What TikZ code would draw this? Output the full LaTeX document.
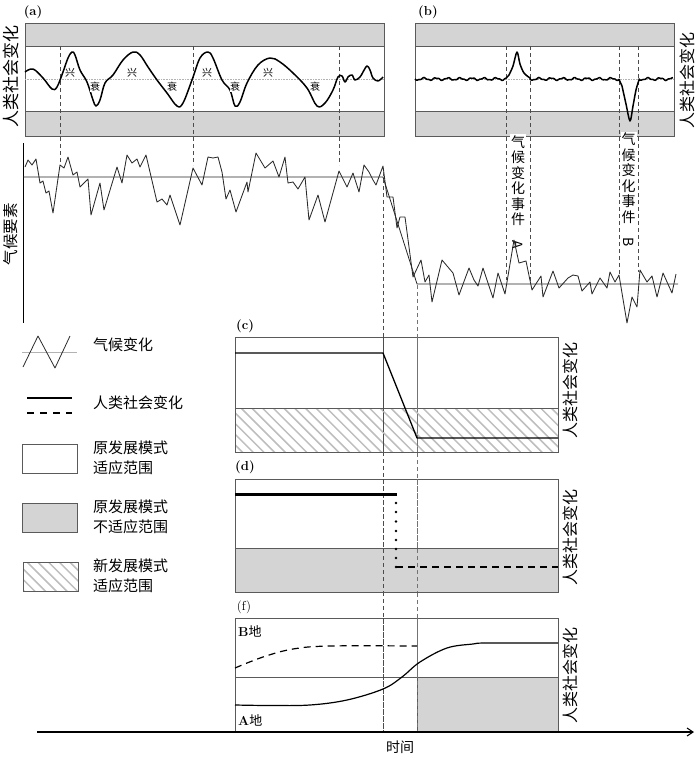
\documentclass[tikz,border=0pt]{standalone}
\usepackage{fontspec}
\newfontfamily\cjk{Noto Sans CJK SC}
\usepackage{tikz}
\usetikzlibrary{arrows.meta}
\usepackage{xcolor}
\definecolor{Band}{HTML}{D4D4D4}
\definecolor{Frame}{HTML}{5A5A5A}
\definecolor{Hatch}{HTML}{BEBEBE}
\definecolor{Wave}{HTML}{2A2A2A}

\tikzset{
  frame/.style={draw=Frame,line width=0.9pt},
  band/.style={fill=Band,draw=Frame,line width=0.9pt},
  guide/.style={draw=black!70,line width=0.6pt,dash pattern=on 4pt off 3pt},
  midline/.style={draw=gray!60,line width=0.6pt,densely dotted},
  society/.style={line width=1.7pt,line join=round},
  climate/.style={draw=Wave,line width=0.85pt,line join=round},
  mean/.style={draw=black!85,line width=0.8pt},
  zh/.style={font=\cjk\fontsize{15}{20}\selectfont,inner sep=0pt},
  tag/.style={font=\bfseries\fontsize{13}{13}\selectfont,inner sep=0pt},
}

% hatched rectangle: x1,y1,x2,y2
\newcommand{\hatchbox}[4]{%
  \begin{scope}
    \clip (#1,#2) rectangle (#3,#4);
    \foreach \k in {-80,-69.3,...,700}
      \draw[Hatch,line width=1.5pt] (\k,#2) -- ++(80,80);
  \end{scope}
  \draw[frame] (#1,#2) rectangle (#3,#4);
}

\begin{document}
\begin{tikzpicture}[x=1pt,y=-1pt]
  \useasboundingbox (0,0) rectangle (700,761);

  % ---- (a) ----
  \node[tag] (tagA) at (33,12) {(a)};
  \filldraw[band] (25,23) rectangle (384,46);
  \filldraw[band] (25,111) rectangle (384,136);
  \draw[frame] (25,23) rectangle (384,136);
  \draw[midline] (25,79) -- (384,79);
  \foreach \x in {60,193,339}
    \draw[guide] (\x,46) -- (\x,165);
  \draw[society,line width=1.5pt] plot[smooth,tension=0.6] coordinates {
    (25,72) (33,69) (43,78) (52,89) (57,87) (63,72) (68,58) (72,52) (75,55)
    (80,70) (87,82) (93,100) (96,106) (100,100) (105,83) (113,75) (123,60)
    (133,52) (140,55) (148,67) (157,80) (167,93) (177,106) (183,103) (192,80)
    (200,58) (208,52) (213,58) (222,80) (230,90) (235,106) (240,102) (247,83)
    (258,65) (270,58) (280,62) (293,73) (307,88) (317,106) (325,103) (333,90)
    (338,77) (342,76) (345,82) (348,77) (352,75) (355,80) (360,77) (363,72)
    (367,66) (370,70) (373,78) (378,81) (383,77)};
  \foreach \x/\t/\y in {70/兴/73,95/衰/87,132/兴/73,172/衰/87,207/兴/73,235/衰/87,268/兴/73,315/衰/87}
    \node[zh,font=\cjk\fontsize{10}{10}\selectfont,fill=white,inner sep=0.5pt] (phase\x) at (\x,\y) {\t};
  \node[zh,font=\cjk\fontsize{17}{17}\selectfont,rotate=90] (yA) at (11,76) {人类社会变化};

  % ---- (b) ----
  \node[tag] (tagB) at (428,12) {(b)};
  \filldraw[band] (415,23) rectangle (674,46);
  \filldraw[band] (415,111) rectangle (674,136);
  \draw[frame] (415,23) rectangle (674,136);
  \draw[midline] (415,79) -- (674,79);
  \foreach \x/\e in {506/280,530/283,619/277,638/272}
    \draw[guide] (\x,46) -- (\x,\e);
  \draw[society,line width=1.5pt]
    plot[domain=415:506,samples=70] (\x,{79+1.1*sin(30*(\x-415))+0.5*sin(71*(\x-415))})
    -- plot[smooth,tension=0.5] coordinates {(509,75) (513,66) (517,52) (520,64) (524,73) (530,78)}
    -- plot[domain=530:619,samples=70] (\x,{79+1.1*sin(30*(\x-530))+0.5*sin(71*(\x-530))})
    -- plot[smooth,tension=0.5] coordinates {(622,86) (626,104) (630,121) (633,106) (636,90) (639,80)}
    -- plot[domain=639:673,samples=30] (\x,{79+1.1*sin(30*(\x-639))+0.5*sin(71*(\x-639))});
  \node[zh,font=\cjk\fontsize{16}{16}\selectfont,rotate=90] (yB) at (687,80) {人类社会变化};
  \node[zh,font=\cjk\fontsize{14}{15.5}\selectfont,align=center,fill=white,inner sep=1pt] (evA) at (518,192)
    {气\\候\\变\\化\\事\\件\\\rotatebox{-90}{A}};
  \node[zh,font=\cjk\fontsize{14}{15.5}\selectfont,align=center,fill=white,inner sep=1pt] (evB) at (628.5,190)
    {气\\候\\变\\化\\事\\件\\\rotatebox{-90}{B}};

  % ---- climate series ----
  \draw[line width=1pt] (23,143) -- (23,323);
  \node[zh,font=\cjk\fontsize{15.5}{15.5}\selectfont,rotate=90] (yClim) at (11,234) {气候要素};
  \draw[mean] (23,177) -- (383,177) -- (417,284) -- (678,284);
  \draw[climate] plot coordinates {
    (25,167) (28,160) (32,165) (36,159) (40,183) (43,181) (46,193) (49,191)
    (53,213) (60,165) (64,168) (68,157) (73,175) (77,172) (80,187) (88,179)
    (91,215) (100,183) (104,210) (117,167) (122,183) (127,155) (132,163)
    (137,159) (140,167) (146,155) (157,202) (162,199) (167,205) (170,195)
    (175,210) (180,225) (193,168) (202,185) (208,157) (213,158) (218,157)
    (222,172) (226,199) (230,190) (236,212) (247,182) (248,192) (256,153)
    (265,168) (273,161) (279,177) (285,157) (288,183) (293,182) (298,189)
    (305,177) (309,220) (318,195) (325,222) (339,171) (347,187) (353,173)
    (359,192) (364,165) (369,172) (373,180) (376,185) (383,166) (387,197)
    (393,197) (397,228) (400,217) (405,217) (413,277) (421,260) (425,282)
    (429,275) (432,302) (442,260) (453,273) (459,295) (469,268) (474,280)
    (478,286) (483,268) (493,298) (498,273) (505,294) (514,240) (519,263)
    (526,261) (532,290) (541,276) (543,297) (553,271) (559,288) (568,278)
    (573,275) (578,276) (582,291) (590,282) (592,294) (600,278) (607,288)
    (610,272) (615,282) (619,275) (627,323) (632,297) (637,307) (640,270)
    (647,282) (652,276) (657,297) (663,273) (672,293) (676,274)};

  % long guides down to the time axis
  \draw[guide] (383,172) -- (383,732);
  \draw[guide,draw=black!55] (417,285) -- (417,732);

  % ---- legend ----
  \draw[draw=gray!60,line width=1pt] (22,352) -- (77,352);
  \draw[climate,line width=0.8pt] (23,367) -- (38,336) -- (55,368) -- (70,336);
  \node[zh,anchor=west] (lgClim) at (93,345) {气候变化};
  \draw[line width=1.3pt] (27,398) -- (72,398);
  \draw[line width=1.3pt,dash pattern=on 7pt off 6pt] (27,413) -- (72,413);
  \node[zh,anchor=west] (lgSoc) at (93,403) {人类社会变化};
  \draw[frame] (22,444) rectangle (77,473);
  \node[zh,anchor=west,align=left] (lgOld) at (93,458) {原发展模式\\适应范围};
  \filldraw[band] (22,503) rectangle (77,532);
  \node[zh,anchor=west,align=left] (lgBad) at (93,517) {原发展模式\\不适应范围};
  \hatchbox{23}{562}{78}{591}
  \node[zh,anchor=west,align=left] (lgNew) at (93,576) {新发展模式\\适应范围};

  % ---- (c) ----
  \node[tag] (tagC) at (245,326) {(c)};
  \hatchbox{235}{408}{558}{452}
  \draw[frame] (235,337) rectangle (558,452);
  \draw[guide] (383,337) -- (383,452);
  \draw[guide,draw=black!55] (417,337) -- (417,452);
  \draw[society,line width=1.3pt] (235,353) -- (383,353) -- (417,438) -- (558,438);
  \node[zh,font=\cjk\fontsize{16}{16}\selectfont,rotate=90] (yC) at (570,390) {人类社会变化};

  % ---- (d) ----
  \node[tag] (tagD) at (245,467) {(d)};
  \filldraw[band] (235,548) rectangle (558,592);
  \draw[frame] (235,479) rectangle (558,592);
  \draw[guide] (383,479) -- (383,592);
  \draw[guide,draw=black!55] (417,479) -- (417,592);
  \draw[line width=3pt] (235,494) -- (397,494);
  \foreach \y in {503,512,521.5,531,540,549,558,567}
    \fill (396,\y) circle (1.3pt);
  \draw[line width=1.3pt,dash pattern=on 7pt off 5pt] (396,567) -- (558,567);
  \node[zh,font=\cjk\fontsize{16}{16}\selectfont,rotate=90] (yD) at (570,537) {人类社会变化};

  % ---- (f) ----
  \node[font=\fontsize{13}{13}\selectfont,inner sep=0pt] (tagF) at (244,607) {(f)};
  \filldraw[band] (417,677) rectangle (558,731);
  \draw[frame] (235,618) rectangle (558,731);
  \draw[frame] (235,677) -- (558,677);
  \draw[guide] (383,618) -- (383,731);
  \draw[guide,draw=black!55] (417,618) -- (417,731);
  \draw[line width=1.2pt] plot[smooth,tension=0.6] coordinates {
    (235,705) (270,705.5) (310,705) (347,700) (383,689) (402,677) (420,662)
    (447,648) (473,644) (487,643) (558,643)};
  \draw[line width=1.2pt,dash pattern=on 7pt off 5pt] plot[smooth,tension=0.6] coordinates {
    (235,668) (263,657) (293,649) (330,646) (417,646)};
  \node[font=\fontsize{13}{13}\selectfont,inner sep=0pt,anchor=west] (siteB) at (238,631) {\textbf{B}\cjk 地};
  \node[font=\fontsize{13}{13}\selectfont,inner sep=0pt,anchor=west] (siteA) at (238,720) {\textbf{A}\cjk 地};
  \node[zh,font=\cjk\fontsize{16}{16}\selectfont,rotate=90] (yF) at (570,675) {人类社会变化};

  % ---- time axis ----
  \draw[line width=1.1pt,-{Straight Barb[length=6pt,width=8pt]}] (37,732) -- (694,732);
  \node[zh,font=\cjk\fontsize{14}{14}\selectfont] (tAxis) at (400,747) {时间};
\end{tikzpicture}
\end{document}
